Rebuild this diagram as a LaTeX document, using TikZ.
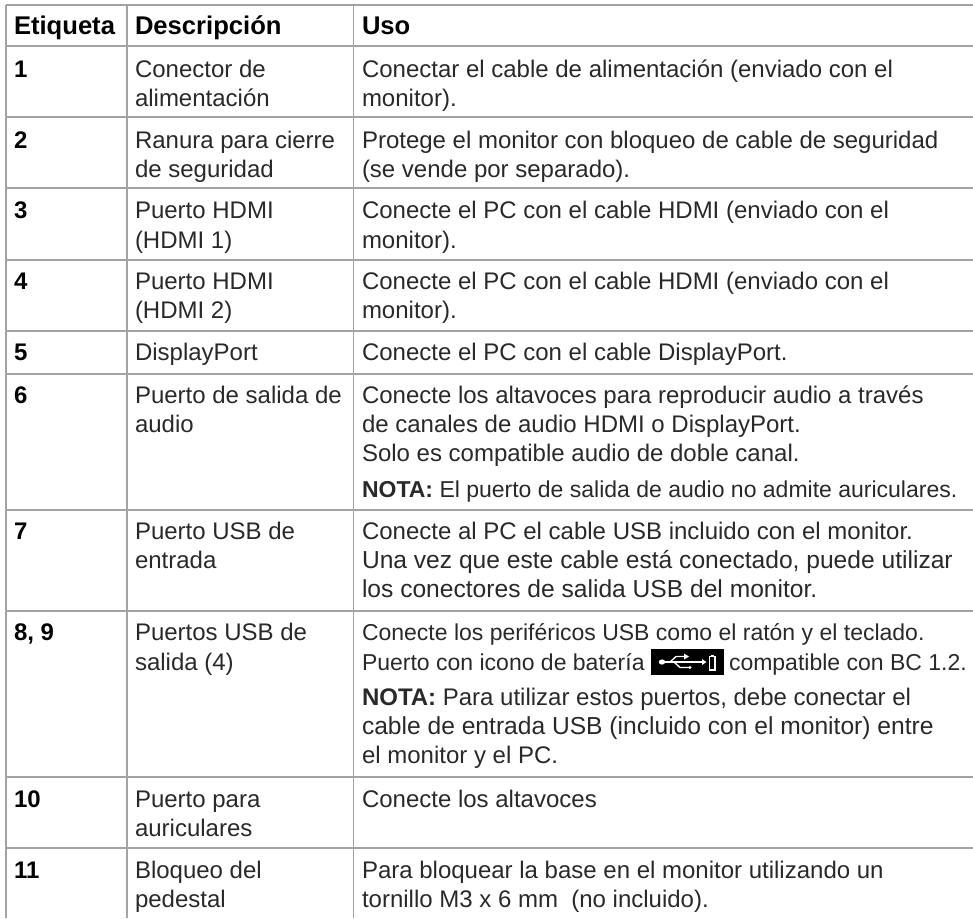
\documentclass[tikz,border=0pt]{standalone}
\usepackage{fontspec}
\setmainfont{Liberation Sans}
\definecolor{ink}{HTML}{2B2829}
\definecolor{rule}{HTML}{A3A3A3}
\tikzset{x=0.75pt,y=-0.75pt,
 tx/.style={anchor=base west,inner sep=0pt,outer sep=0pt,text=ink,font=\fontsize{18}{18}\selectfont},
 tight/.style={tx,font=\fontsize{17.25}{18}\selectfont},
 wide/.style={tx,font=\fontsize{18.45}{18}\selectfont},
 bf/.style={tx,text=black,font=\fontsize{18}{18}\selectfont\bfseries},
 hd/.style={tx,text=black,font=\fontsize{19.2}{18}\selectfont\bfseries},
 gl/.style={draw=rule,line width=1.1pt}}
\begin{document}
\begin{tikzpicture}
\useasboundingbox (0,0) rectangle (973,918);
\foreach \y in {5,46,117,188,260,331,374,510,611,777,848} \draw[gl] (6,\y) -- (973,\y);
\foreach \x in {6,127,353.5} \draw[gl] (\x,5) -- (\x,918);
\node[hd] (h1) at (14,34) {Etiqueta};
\node[hd] (h2) at (135,34) {Descripción};
\node[hd] (h3) at (362,34) {Uso};
\node[bf] (n1) at (14,77) {1};
\node[tx] (d1a) at (135,77) {Conector de};
\node[tx] (d1b) at (135,106) {alimentación};
\node[tx] (u1a) at (362,77) {Conectar el cable de alimentación (enviado con el};
\node[tx] (u1b) at (362,106) {monitor).};
\node[bf] (n2) at (14,148) {2};
\node[tx] (d2a) at (135,148) {Ranura para cierre};
\node[tx] (d2b) at (135,177) {de seguridad};
\node[tx] (u2a) at (362,148) {Protege el monitor con bloqueo de cable de seguridad};
\node[tx] (u2b) at (362,177) {(se vende por separado).};
\node[bf] (n3) at (14,218) {3};
\node[tx] (d3a) at (135,218) {Puerto HDMI};
\node[tx] (d3b) at (135,248) {(HDMI 1)};
\node[tx] (u3a) at (362,218) {Conecte el PC con el cable HDMI (enviado con el};
\node[tx] (u3b) at (362,248) {monitor).};
\node[bf] (n4) at (14,289) {4};
\node[tx] (d4a) at (135,289) {Puerto HDMI};
\node[tx] (d4b) at (135,318) {(HDMI 2)};
\node[tx] (u4a) at (362,289) {Conecte el PC con el cable HDMI (enviado con el};
\node[tx] (u4b) at (362,318) {monitor).};
\node[bf] (n5) at (14,360) {5};
\node[tx] (d5) at (135,360) {DisplayPort};
\node[tx] (u5) at (362,360) {Conecte el PC con el cable DisplayPort.};
\node[bf] (n6) at (14,403) {6};
\node[tx] (d6a) at (135,403) {Puerto de salida de};
\node[tx] (d6b) at (135,432) {audio};
\node[tx] (u6a) at (362,403) {Conecte los altavoces para reproducir audio a través};
\node[tx] (u6b) at (362,432) {de canales de audio HDMI o DisplayPort.};
\node[tx] (u6c) at (362,461) {Solo es compatible audio de doble canal.};
\node[tight] (u6d) at (362,497) {\textbf{NOTA:} El puerto de salida de audio no admite auriculares.};
\node[bf] (n7) at (14,539) {7};
\node[tx] (d7a) at (135,539) {Puerto USB de};
\node[tx] (d7b) at (135,568) {entrada};
\node[tx] (u7a) at (362,539) {Conecte al PC el cable USB incluido con el monitor.};
\node[wide] (u7b) at (362,568) {Una vez que este cable está conectado, puede utilizar};
\node[wide] (u7c) at (362,597) {los conectores de salida USB del monitor.};
\node[bf] (n8) at (14,640) {8, 9};
\node[tx] (d8a) at (135,640) {Puertos USB de};
\node[tx] (d8b) at (135,670) {salida (4)};
\node[tight] (u8a) at (362,640) {Conecte los periféricos USB como el ratón y el teclado.};
\node[tight] (u8b) at (362,670) {Puerto con icono de batería};
\node[tight] (u8c) at (729,670) {compatible con BC 1.2.};
\node[tx] (u8d) at (362,705) {\textbf{NOTA:} Para utilizar estos puertos, debe conectar el};
\node[wide] (u8e) at (362,734) {cable de entrada USB (incluido con el monitor) entre};
\node[tx] (u8f) at (362,763) {el monitor y el PC.};
\node[bf] (n10) at (14,807) {10};
\node[tx] (d10a) at (135,807) {Puerto para};
\node[tx] (d10b) at (135,836) {auriculares};
\node[tx] (u10) at (362,807) {Conecte los altavoces};
\node[bf] (n11) at (14,878) {11};
\node[tx] (d11a) at (135,878) {Bloqueo del};
\node[tx] (d11b) at (135,907) {pedestal};
\node[tx] (u11a) at (362,878) {Para bloquear la base en el monitor utilizando un};
\node[tx] (u11b) at (362,907) {tornillo M3 x 6 mm\ \ (no incluido).};
% USB icon
\fill[black] (651,649) rectangle (724,675);
\fill[white] (662,662) ellipse (3.2 and 2.6);
\draw[white,line width=1pt] (662,662) -- (702,662);
\fill[white] (702,659) -- (706.5,662) -- (702,665) -- cycle;
\draw[white,line width=1pt] (670,662) -- (676,656.5) -- (687,656.5);
\draw[white,line width=1pt] (674,662) -- (680,667.5) -- (690,667.5);
\fill[white] (684,653.5) -- (689,656.5) -- (684,659.5) -- cycle;
\fill[white] (690,667.5) circle (1.7);
\draw[white,line width=1pt] (709.5,656.5) rectangle (715,670);
\fill[white] (711,654.8) rectangle (713.5,656.5);
\end{tikzpicture}
\end{document}
